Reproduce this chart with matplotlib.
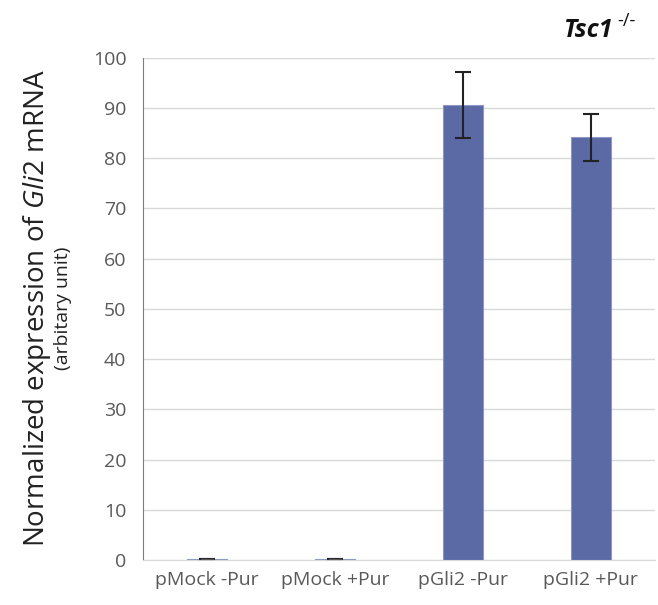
import matplotlib.pyplot as plt

plt.rcParams['font.family'] = ['Open Sans', 'DejaVu Sans']
plt.rcParams['mathtext.fontset'] = 'custom'
plt.rcParams['mathtext.it'] = 'Open Sans:italic'
plt.rcParams['mathtext.rm'] = 'Open Sans'

categories = ["pMock -Pur", "pMock +Pur", "pGli2 -Pur", "pGli2 +Pur"]
values = [0.1, 0.1, 90.6, 84.2]
errors = [0.0, 0.0, 6.5, 4.7]

fig = plt.figure(figsize=(6.58, 6.05), dpi=100)
ax = fig.add_axes([0.2173, 0.0744, 0.778, 0.830])

x = range(len(categories))
ax.bar(x, values, width=0.31, color="#5B69A5", edgecolor="#8C97C7", linewidth=0.8, zorder=2)
ax.errorbar(x, values, yerr=errors, fmt="none", ecolor="#222222", elinewidth=1.5,
            capsize=6, capthick=1.5, zorder=3)
# tiny dashes at zero for the mock groups
for i, v in enumerate(values):
    if v < 1:
        ax.plot([i - 0.05, i + 0.05], [v, v], color="#555555", lw=1, zorder=3)

ax.set_xlim(-0.5, 3.5)
ax.set_ylim(0, 100)
ax.set_yticks(range(0, 101, 10))
ax.set_xticks(list(x))
ax.set_xticklabels(categories)
ax.tick_params(axis="both", length=0, labelsize=14, colors="#595959", pad=8)
ax.tick_params(axis="y", pad=12)
ax.grid(axis="y", color="#D9D9D9", lw=1, zorder=0)
for s in ["top", "right"]:
    ax.spines[s].set_visible(False)
ax.spines["left"].set_color("#7F7F7F")
ax.spines["bottom"].set_color("#D9D9D9")
ax.axhline(100, color="#BFBFBF", lw=1.5, zorder=1)

fig.text(0.056, 0.49, "Normalized expression of $\\mathit{Gli2}$ mRNA", rotation=90,
         ha="center", va="center", fontsize=20, color="#222222")
fig.text(0.095, 0.49, "(arbitary unit)", rotation=90, ha="center", va="center",
         fontsize=14, color="#222222")
fig.text(0.932, 0.95, "Tsc1", ha="right", va="center", fontsize=18,
         fontweight="bold", style="italic", color="#111111")
fig.text(0.938, 0.966, "-/-", ha="left", va="center", fontsize=13, color="#111111")

fig.savefig("out.png", dpi=100)
